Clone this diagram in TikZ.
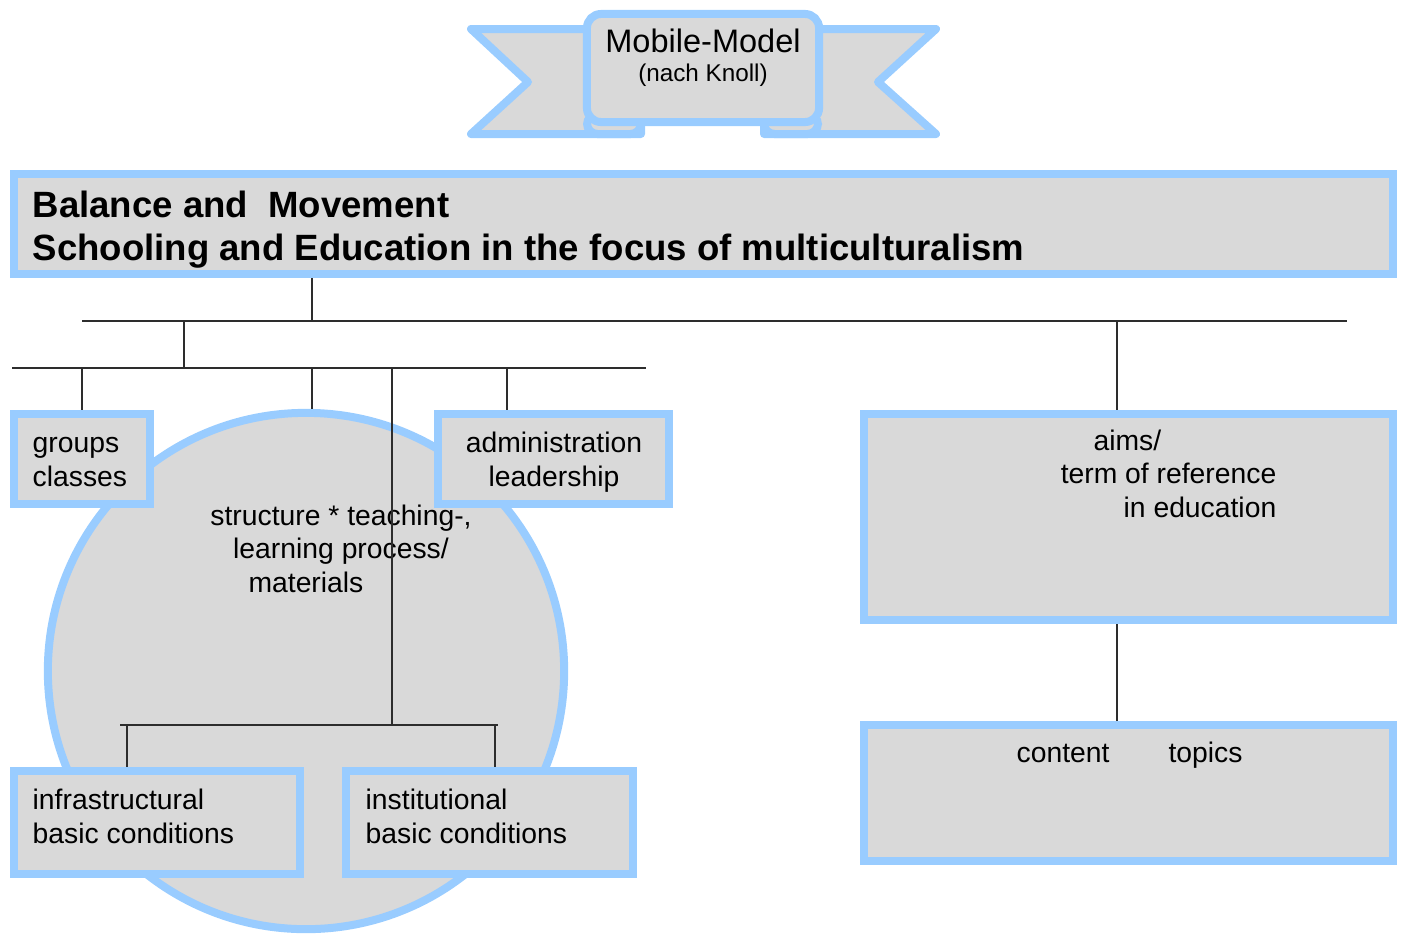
\documentclass[tikz,border=0pt]{standalone}
\usepackage{fontspec}
\setmainfont{Liberation Sans}
\usetikzlibrary{positioning}
\definecolor{bandblue}{RGB}{153,204,255}
\definecolor{boxgray}{RGB}{217,217,217}
\definecolor{wiregray}{RGB}{45,45,45}

\begin{document}
\begin{tikzpicture}[x=0.01cm, y=-0.01cm,
    bluebox/.style={draw=bandblue, fill=boxgray, line width=0.08cm, inner sep=0pt, rectangle},
    wire/.style={draw=wiregray, line width=0.45pt},
    boxtext/.style={font=\fontsize{8.05}{9.4}\selectfont, inner sep=0pt}]

  \useasboundingbox (0,0) rectangle (1404,933);

  % --- Banner ---
  \draw[bluebox, line join=round] (471,29) -- (641,29) -- (641,134) -- (471,134) -- (528,82) -- cycle;
  \draw[bluebox, line join=round] (936,29) -- (764,29) -- (764,134) -- (936,134) -- (878,82) -- cycle;
  \draw[bluebox, rounded corners=3] (587,114) rectangle (641,134);
  \draw[bluebox, rounded corners=3] (764,114) rectangle (818,134);
  \node[bluebox, rounded corners=4, minimum width=2.32cm, minimum height=1.08cm] (banner) at (703,68) {};
  \node[font=\fontsize{9.25}{11}\selectfont, inner sep=0pt, anchor=base] (bannertitle) at (703,52) {Mobile-Model};
  \node[font=\fontsize{6.9}{8}\selectfont, inner sep=0pt, anchor=base] (bannersub) at (703,81) {(nach Knoll)};

  % --- Title ---
  \node[bluebox, minimum width=13.79cm, minimum height=1.00cm] (title) at (703.5,224) {};
  \node[font=\fontsize{10.4}{11.95}\selectfont\bfseries, inner sep=0pt, anchor=base west, align=left] (titletext) at (32,260)
    {Balance and~~Movement\\Schooling and Education in the focus of multiculturalism};

  % --- Circle and boxes ---
  \node[bluebox, circle, minimum size=5.16cm] (core) at (306,671) {};
  \node[bluebox, minimum width=1.36cm, minimum height=0.90cm] (groups) at (82,459) {};
  \node[bluebox, minimum width=2.31cm, minimum height=0.90cm] (admin) at (553.5,459) {};
  \node[bluebox, minimum width=2.86cm, minimum height=1.03cm] (infra) at (157,822.5) {};
  \node[bluebox, minimum width=2.87cm, minimum height=1.03cm] (inst) at (489.5,822.5) {};
  \node[bluebox, minimum width=5.29cm, minimum height=2.06cm] (aims) at (1128.5,517) {};
  \node[bluebox, minimum width=5.29cm, minimum height=1.36cm] (content) at (1128.5,793) {};

  % --- Texts ---
  \node[boxtext, anchor=base, align=center] (coretext) at (341,592)
    {structure * teaching-,\\learning process/\\materials\hspace*{0.7cm}};
  \node[boxtext, anchor=base west, align=left] (groupstext) at (32,486) {groups\\classes};
  \node[boxtext, anchor=base, align=center] (admintext) at (554,486) {administration\\leadership};
  \node[boxtext, anchor=base west, align=left] (infratext) at (32,843) {infrastructural\\basic conditions};
  \node[boxtext, anchor=base west, align=left] (insttext) at (365,843) {institutional\\basic conditions};
  \node[boxtext, anchor=base east, align=right] (aimstext) at (1277,517)
    {aims/\hspace*{1.15cm}\\term of reference\\in education};
  \node[boxtext, anchor=base west] (contenttext) at (1016,762) {content\hspace*{0.59cm}topics};

  % --- Connectors ---
  \coordinate (hub) at (312,321);
  \coordinate (busL) at (82,321);
  \coordinate (busR) at (1347,321);
  \coordinate (sub) at (184,321);
  \coordinate (subhub) at (184,368);
  \coordinate (rowL) at (12,368);
  \coordinate (rowR) at (646,368);
  \coordinate (coretop) at (312,368);
  \coordinate (admintop) at (507,368);
  \coordinate (stem) at (392,368);
  \coordinate (low) at (392,725);
  \coordinate (lowL) at (120,725);
  \coordinate (lowR) at (498,725);
  \coordinate (infratop) at (127,725);
  \coordinate (insttop) at (495,725);
  \coordinate (aimsdrop) at (1117,321);

  \draw[wire] (title.south -| hub) -- (hub);
  \draw[wire] (busL) -- (busR);
  \draw[wire] (sub) -- (subhub);
  \draw[wire] (rowL) -- (rowR);
  \draw[wire] (groups.north |- rowL) -- (groups.north);
  \draw[wire] (coretop) -- (coretop |- core.north);
  \draw[wire] (admintop) -- (admintop |- admin.north);
  \draw[wire] (stem) -- (low);
  \draw[wire] (lowL) -- (lowR);
  \draw[wire] (infratop) -- (infratop |- infra.north);
  \draw[wire] (insttop) -- (insttop |- inst.north);
  \draw[wire] (aimsdrop) -- (aimsdrop |- aims.north);
  \draw[wire] (aims.south -| aimsdrop) -- (content.north -| aimsdrop);
\end{tikzpicture}
\end{document}
